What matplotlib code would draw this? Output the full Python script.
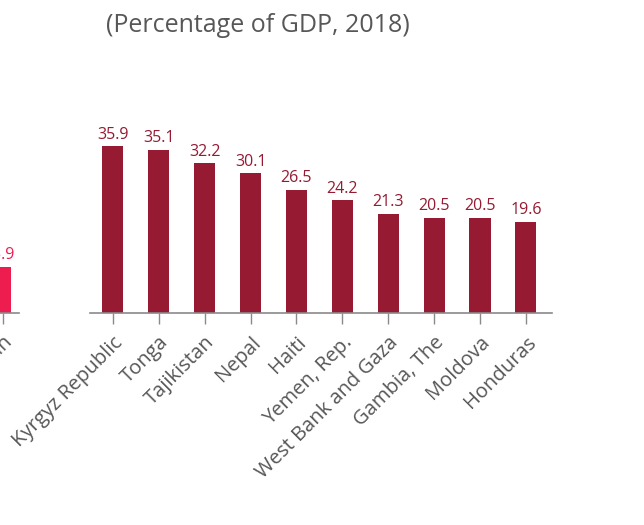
import matplotlib
matplotlib.use("Agg")
import matplotlib.pyplot as plt

# data
countries = ["Kyrgyz Republic", "Tonga", "Tajikistan", "Nepal", "Haiti",
             "Yemen, Rep.", "West Bank and Gaza", "Gambia, The", "Moldova", "Honduras"]
values = [35.9, 35.1, 32.2, 30.1, 26.5, 24.2, 21.3, 20.5, 20.5, 19.6]

# neighbouring panel, mostly cropped off on the left
left_labels = ["Latin America and Caribbean"]
left_values = [5.9]

title = "(Percentage of GDP, 2018)"

BAR = "#951a32"
PINK = "#ee1d4f"
GREY = "#575757"
AXIS = "#8a8a8a"

plt.rcParams["font.family"] = ["Open Sans", "DejaVu Sans"]

fig = plt.figure(figsize=(6.44, 5.25), dpi=100)
W, H = 644, 525


def style_axes(ax):
    for s in ["top", "right", "left"]:
        ax.spines[s].set_visible(False)
    ax.spines["bottom"].set_color(AXIS)
    ax.spines["bottom"].set_linewidth(1.2)
    ax.set_yticks([])
    ax.tick_params(axis="x", length=8, width=1.0, color=AXIS, labelcolor=GREY,
                   labelsize=14.5, pad=6)


# main panel
ax = fig.add_axes([90 / W, (H - 313) / H, 462 / W, 186 / H])
x = range(len(countries))
bars = ax.bar(x, values, width=0.46, color=BAR)
ax.set_xlim(-0.5, 9.57)
ax.set_ylim(0, 40)
style_axes(ax)
ax.set_xticks(list(x))
ax.set_xticklabels(countries, rotation=45, ha="right", rotation_mode="anchor")
for b, v in zip(bars, values):
    ax.annotate(f"{v:.1f}", (b.get_x() + b.get_width() / 2, v), xytext=(0, 2.5),
                textcoords="offset points", ha="center", va="bottom",
                color=BAR, fontsize=11.5)

# left panel (cropped)
ax2 = fig.add_axes([-120 / W, (H - 313) / H, 139 / W, 186 / H])
b2 = ax2.bar([0], left_values, width=0.35, color=PINK)
ax2.set_xlim(-2.65, 0.35)
ax2.set_ylim(0, 23.8)
style_axes(ax2)
ax2.set_xticks([0])
ax2.set_xticklabels(left_labels, rotation=45, ha="right", rotation_mode="anchor")
for b, v in zip(b2, left_values):
    ax2.annotate(f"{v:.1f}", (b.get_x() + b.get_width() / 2, v), xytext=(0, 2.5),
                 textcoords="offset points", ha="center", va="bottom",
                 color=PINK, fontsize=11.5)

fig.text(258 / W, 1 - 26 / H, title, ha="center", va="center",
         color=GREY, fontsize=18)

fig.savefig("out.png", dpi=100)
